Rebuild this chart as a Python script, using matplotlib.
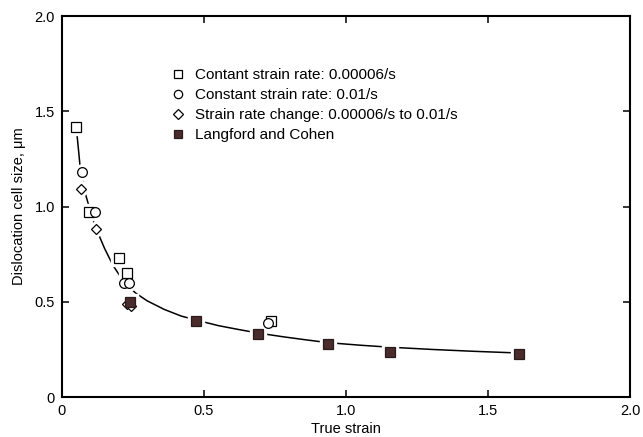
import matplotlib.pyplot as plt
from matplotlib.lines import Line2D

plt.rcParams['font.family'] = ['Liberation Sans', 'DejaVu Sans']

# open squares: constant strain rate 0.00006/s
sq_x = [0.05, 0.095, 0.20, 0.23, 0.735]
sq_y = [1.42, 0.97, 0.73, 0.65, 0.40]
# open circles: constant strain rate 0.01/s
ci_x = [0.07, 0.115, 0.22, 0.235, 0.725]
ci_y = [1.18, 0.97, 0.60, 0.60, 0.39]
# diamonds: strain rate change
di_x = [0.067, 0.12, 0.228, 0.243]
di_y = [1.09, 0.88, 0.49, 0.48]
# filled squares: Langford and Cohen
lc_x = [0.24, 0.47, 0.69, 0.935, 1.155, 1.61]
lc_y = [0.50, 0.40, 0.33, 0.28, 0.235, 0.225]
# hand-drawn trend curve
fit_x = [0.05, 0.058, 0.065, 0.08, 0.10, 0.12, 0.15, 0.18, 0.22, 0.26, 0.30,
         0.36, 0.42, 0.47, 0.55, 0.62, 0.69, 0.78, 0.86, 0.94, 1.05, 1.15,
         1.30, 1.45, 1.61]
fit_y = [1.42, 1.30, 1.19, 1.08, 0.975, 0.885, 0.78, 0.69, 0.60, 0.545, 0.505,
         0.46, 0.425, 0.405, 0.375, 0.355, 0.336, 0.316, 0.30, 0.285, 0.272,
         0.262, 0.25, 0.24, 0.231]

labels = ['Contant strain rate: 0.00006/s', 'Constant strain rate: 0.01/s',
          'Strain rate change: 0.00006/s to 0.01/s', 'Langford and Cohen']

fig = plt.figure(figsize=(6.43, 4.37), dpi=100)
ax = fig.add_axes([0.0964, 0.0915, 0.8836, 0.8715])

ax.plot(fit_x, fit_y, color='black', lw=1.1, zorder=1)

ms = 7
groups = [
    (sq_x, sq_y, 's', 'white', 'black'),
    (ci_x, ci_y, 'o', 'white', 'black'),
    (di_x, di_y, 'D', 'white', 'black'),
    (lc_x, lc_y, 's', '#4a2c2c', '#2a1a1a'),
]
for x, y, m, fc, ec in groups:
    msize = ms * 0.75 if m == 'D' else ms
    # white halo to break the curve around each marker
    ax.plot(x, y, ls='none', marker=m, ms=msize + 4, mfc='white', mec='white', zorder=2)
for x, y, m, fc, ec in groups:
    msize = ms * 0.75 if m == 'D' else ms
    ax.plot(x, y, ls='none', marker=m, ms=msize, mfc=fc, mec=ec, mew=0.9, zorder=3)

handles = [
    Line2D([], [], ls='none', marker='s', ms=6, mfc='white', mec='black', mew=0.9),
    Line2D([], [], ls='none', marker='o', ms=6, mfc='white', mec='black', mew=0.9),
    Line2D([], [], ls='none', marker='D', ms=5, mfc='white', mec='black', mew=0.9),
    Line2D([], [], ls='none', marker='s', ms=6, mfc='#4a2c2c', mec='#2a1a1a', mew=0.9),
]
ax.legend(handles, labels, loc='upper left', bbox_to_anchor=(0.183, 0.88),
          frameon=False, fontsize=11, handlelength=0.8, handletextpad=0.7,
          labelspacing=0.4, borderaxespad=0)

ax.set_xlim(0, 2.0)
ax.set_ylim(0, 2.0)
ticks = [0, 0.5, 1.0, 1.5, 2.0]
tlabels = ['0', '0.5', '1.0', '1.5', '2.0']
ax.set_xticks(ticks)
ax.set_xticklabels(tlabels)
ax.set_yticks(ticks)
ax.set_yticklabels(tlabels)
ax.tick_params(direction='in', length=5, width=1.1, top=True, right=True,
               labelsize=10.5, pad=5)
for s in ax.spines.values():
    s.set_linewidth(1.5)

ax.set_xlabel('True strain', fontsize=10.5, labelpad=3)
ax.set_ylabel('Dislocation cell size, \u03bcm', fontsize=10.5, labelpad=6)

fig.savefig('out.png', dpi=100)
